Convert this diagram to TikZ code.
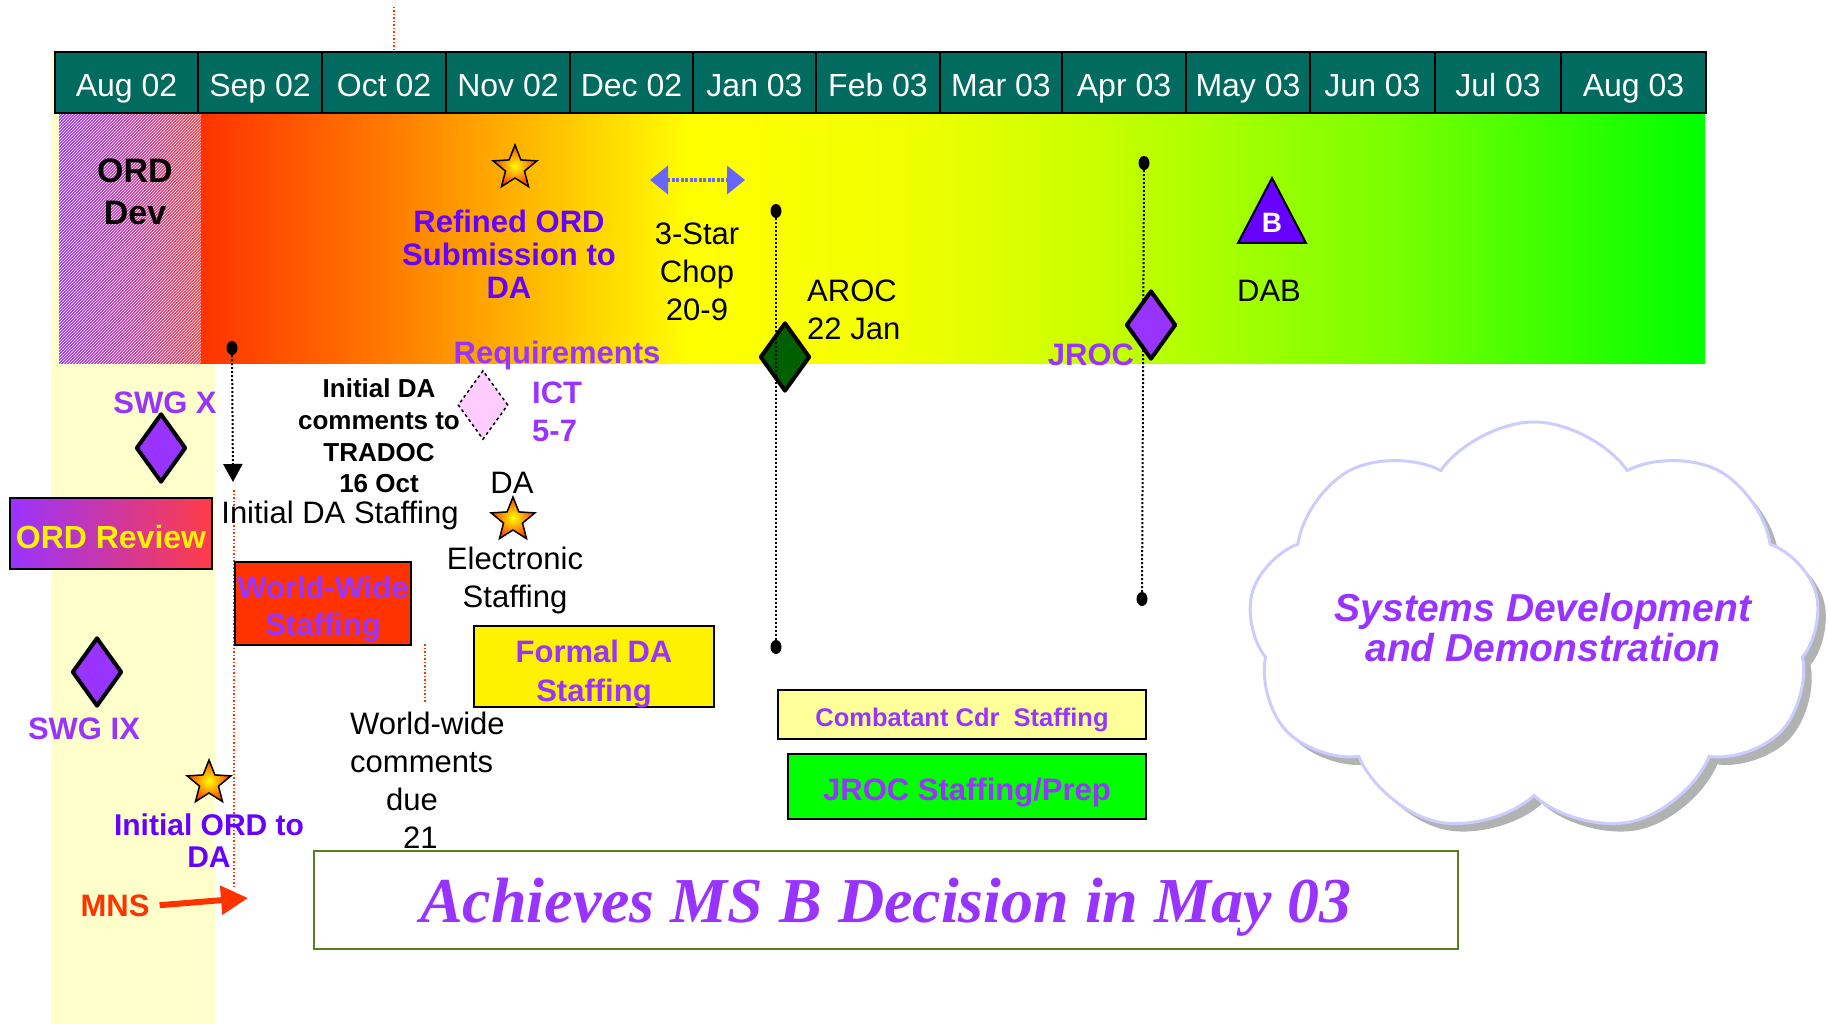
\documentclass[tikz,border=0pt]{standalone}
\usepackage{fontspec}
\setmainfont{Liberation Sans}
\newfontfamily\romanbi{Liberation Serif}
\usetikzlibrary{shapes.geometric,shapes.symbols,arrows.meta,shadows,patterns}

\definecolor{hdrteal}{RGB}{0,107,94}
\definecolor{vio}{RGB}{153,51,255}
\definecolor{bluevio}{RGB}{102,0,255}
\definecolor{redor}{RGB}{255,51,0}
\definecolor{paleyel}{RGB}{255,255,204}
\definecolor{lightyel}{RGB}{255,255,153}
\definecolor{pinkd}{RGB}{255,204,255}
\definecolor{dkgreen}{RGB}{0,96,0}
\definecolor{lav}{RGB}{204,204,255}
\definecolor{olivegr}{RGB}{90,128,30}
\definecolor{chopblue}{RGB}{102,102,255}
\definecolor{starorange}{RGB}{255,60,0}
\definecolor{ordred}{RGB}{255,60,70}
\definecolor{bandA}{RGB}{255,51,0}
\definecolor{bandB}{RGB}{255,119,0}
\definecolor{bandC}{RGB}{255,204,0}
\definecolor{bandD}{RGB}{255,255,0}
\definecolor{bandE}{RGB}{242,255,0}
\definecolor{bandF}{RGB}{200,255,0}
\definecolor{bandG}{RGB}{119,255,0}
\definecolor{bandH}{RGB}{0,255,0}

% band colours along the months
\pgfdeclarehorizontalshading{bandshade}{100bp}{color(0bp)=(bandA); color(25bp)=(bandA);
  color(30.95bp)=(bandB); color(37.4bp)=(bandC); color(41.3bp)=(bandD); color(48.2bp)=(bandE);
  color(54.9bp)=(bandF); color(64.9bp)=(bandG); color(75bp)=(bandH); color(100bp)=(bandH)}

\newcommand{\fsz}[2]{\fontsize{#1pt}{#2pt}\selectfont}

\begin{document}
\begin{tikzpicture}[x=1pt, y=-1pt,
    month/.style={draw=black, line width=1.5pt, fill=hdrteal, text=white, font=\fsz{32}{38},
      minimum height=61pt, inner sep=0pt, text height=28pt, text depth=0pt},
    lbl/.style={font=\fsz{31}{38}, align=center, inner sep=0pt},
    blbl/.style={font=\bfseries\fsz{31}{38}, align=center, inner sep=0pt},
    mstone/.style={diamond, draw=black, line width=4pt, line join=round, fill=vio,
      inner sep=0pt, minimum width=50pt, minimum height=69pt},
    starmark/.style={star, star points=5, star point ratio=2.3, draw=black, line width=1.5pt,
      inner color=yellow, outer color=starorange, minimum size=46pt, inner sep=0pt},
    pindot/.style={ellipse, fill=black, inner sep=0pt, minimum width=11pt, minimum height=14pt},
    taskbox/.style={draw=black, line width=2pt, inner sep=0pt},
    tasktext/.style={text=vio, align=center, inner sep=0pt, font=\bfseries\fsz{31}{38}}]

  \fill[white] (0,0) rectangle (1828,1024);
  \useasboundingbox (0,0) rectangle (1828,1024);

  % background column and band
  \fill[paleyel] (51,51) rectangle (215,1024);
  \shade[left color=vio, right color=ordred] (59,115) rectangle (201,363);
  \fill[pattern=north east lines, pattern color=white, fill opacity=0.15] (59,115) rectangle (201,363);
  \shade[shading=bandshade] (201,115) rectangle (1705,363);

  % months
  \node[month, minimum width=143pt] (aug02) at (126.5,82.5) {Aug 02};
  \node[month, minimum width=124pt] (sep02) at (260,82.5) {Sep 02};
  \node[month, minimum width=124pt] (oct02) at (384,82.5) {Oct 02};
  \node[month, minimum width=124pt] (nov02) at (508,82.5) {Nov 02};
  \node[month, minimum width=123pt] (dec02) at (631.5,82.5) {Dec 02};
  \node[month, minimum width=123pt] (jan03) at (754.5,82.5) {Jan 03};
  \node[month, minimum width=124pt] (feb03) at (878,82.5) {Feb 03};
  \node[month, minimum width=122pt] (mar03) at (1001,82.5) {Mar 03};
  \node[month, minimum width=124pt] (apr03) at (1124,82.5) {Apr 03};
  \node[month, minimum width=124pt] (may03) at (1248,82.5) {May 03};
  \node[month, minimum width=125pt] (jun03) at (1372.5,82.5) {Jun 03};
  \node[month, minimum width=126pt] (jul03) at (1498,82.5) {Jul 03};
  \node[month, minimum width=145pt] (aug03) at (1633.5,82.5) {Aug 03};

  % red guide lines
  \draw[redor, dotted, line width=1.5pt] (394,7) -- (394,52);
  \draw[redor, dotted, line width=1.5pt] (234,490) -- (234,888);
  \draw[redor, dotted, line width=1.5pt] (425,644) -- (425,702);

  % inside the band
  \node[font=\bfseries\fsz{34}{42}, align=center, inner sep=0pt] (ordDev) at (135,192) {ORD\\Dev};
  \node[starmark] (refStar) at (515,168) {};
  \node[blbl, text=bluevio, font=\bfseries\fsz{31}{33}] (refined) at (509,254) {Refined ORD\\Submission to\\DA};
  \coordinate (chopL) at (650,180);
  \coordinate (chopR) at (745,180);
  \draw[chopblue, line width=4pt, dash pattern=on 3pt off 1.5pt,
    {Triangle[width=28pt,length=18pt]}-{Triangle[width=28pt,length=18pt]}] (chopL) -- (chopR);
  \node[lbl] (chop) at (697,272) {3-Star\\Chop\\20-9};
  \node[lbl, align=left, anchor=west] (aroc) at (807,310) {AROC\\22 Jan};
  \filldraw[fill=bluevio, draw=black, line width=2pt] (1272,178) -- (1306,243) -- (1238,243) -- cycle;
  \node[font=\bfseries\fsz{28}{30}, text=white, inner sep=0pt] (dabB) at (1272,223) {B};
  \node[lbl] (dab) at (1269,291) {DAB};

  % AROC milestone
  \node[pindot] (arocTop) at (776,211) {};
  \node[pindot] (arocBot) at (776,647) {};
  \node[mstone, fill=dkgreen] (arocMs) at (785,357) {};
  \draw[dotted, line width=2pt] (arocTop) -- (arocBot);

  % JROC milestone
  \node[pindot] (jrocTop) at (1144,163) {};
  \node[pindot] (jrocBot) at (1142,599) {};
  \draw[dotted, line width=2pt] (jrocTop) -- (jrocBot);
  \node[mstone] (jrocMs) at (1151,325) {};
  \node[blbl, text=vio] (jroc) at (1091,355) {JROC};

  % requirements and ICT
  \node[blbl, text=vio] (reqs) at (557,355) {Requirements};
  \node[diamond, draw=black, dashed, line width=1.5pt, fill=pinkd, inner sep=0pt,
    minimum width=50pt, minimum height=69pt] (ict) at (483,405) {};
  \node[blbl, text=vio, align=left, anchor=west] (ictTxt) at (532,412) {ICT\\5-7};
  \node[blbl, font=\bfseries\fsz{26}{31.8}] (daComm) at (379,436) {Initial DA\\comments to\\TRADOC\\16 Oct};

  % initial DA staffing
  \node[pindot] (sepDot) at (232,348) {};
  \coordinate (sepTip) at (233,482);
  \draw[dotted, line width=2pt, -{Triangle[width=19pt,length=18pt]}] (sepDot) -- (sepTip);
  \node[lbl] (initStaff) at (340,515) {Initial DA Staffing};
  \node[lbl] (daLbl) at (512,483) {DA};
  \node[starmark] (daStar) at (513,520) {};
  \node[lbl] (elec) at (515,580) {Electronic\\Staffing};

  % SWG milestones
  \node[blbl, text=vio] (swgX) at (165,403) {SWG X};
  \node[mstone] (swgXMs) at (161,448) {};
  \node[mstone] (swgIXMs) at (97,672) {};
  \node[blbl, text=vio] (swgIX) at (84,729) {SWG IX};

  % staffing boxes
  \node[taskbox, left color=vio, right color=ordred, minimum width=202pt, minimum height=71pt,
    text=yellow, font=\bfseries\fsz{32}{38}, text height=30pt, text depth=0pt] (ordRev) at (111,533.5) {ORD Review};
  \node[taskbox, fill=redor, minimum width=176pt, minimum height=83pt] (wwStaff) at (323,603.5) {};
  \node[tasktext, font=\bfseries\fsz{31}{37}] (wwText) at ([yshift=-6pt]wwStaff.center) {World-Wide\\Staffing};
  \node[taskbox, fill=yellow, minimum width=240pt, minimum height=81pt] (formalDA) at (594,666.5) {};
  \node[tasktext, font=\bfseries\fsz{31}{39}] (formalText) at ([yshift=-7.5pt]formalDA.center) {Formal DA\\Staffing};
  \node[taskbox, fill=lightyel, minimum width=368pt, minimum height=49pt, text=vio,
    font=\bfseries\fsz{25.5}{30}, text height=24.3pt, text depth=0pt] (ccStaff) at (962,714.5) {Combatant Cdr\ \ Staffing};
  \node[taskbox, fill=bandH, minimum width=358pt, minimum height=65pt, text=vio,
    font=\bfseries\fsz{31}{38}, text height=28.2pt, text depth=0pt] (jrocPrep) at (967,786.5) {JROC Staffing/Prep};
  \node[lbl, align=left, anchor=west] (wwComm) at (350,780) {World-wide\\comments\\\hspace*{36pt}due\\\hspace*{53pt}21};

  % initial ORD and MNS
  \node[starmark] (ordStar) at (209,783) {};
  \node[blbl, text=bluevio, font=\bfseries\fsz{30}{32}] (initOrd) at (209,841) {Initial ORD to\\DA};
  \node[blbl, text=redor] (mns) at (115,906) {MNS};
  \coordinate (mnsTip) at (248,898);
  \draw[redor, line width=6pt, shorten <=10pt, -{Triangle[width=28pt,length=27pt]}] (mns.east) -- (mnsTip);

  % decision box
  \node[draw=olivegr, line width=2pt, minimum width=1144pt, minimum height=98pt, inner sep=0pt,
    text=vio, font=\romanbi\bfseries\itshape\fsz{64}{70}, text height=45pt, text depth=0pt] (msb) at (886,900) {Achieves MS B Decision in May 03};

  % next phase
  \node[cloud, cloud puffs=9, cloud puff arc=110, cloud ignores aspect, draw=lav, line width=3pt,
    fill=white, minimum width=572pt, minimum height=412pt,
    drop shadow={shadow xshift=8pt, shadow yshift=-8pt, fill=black!30, opacity=1}] (sdCloud) at (1534,628) {};
  \node[text=vio, font=\bfseries\itshape\fsz{39}{40}, align=center, inner sep=0pt] (sdText) at (1543,628) {Systems Development\\and Demonstration};
\end{tikzpicture}
\end{document}
